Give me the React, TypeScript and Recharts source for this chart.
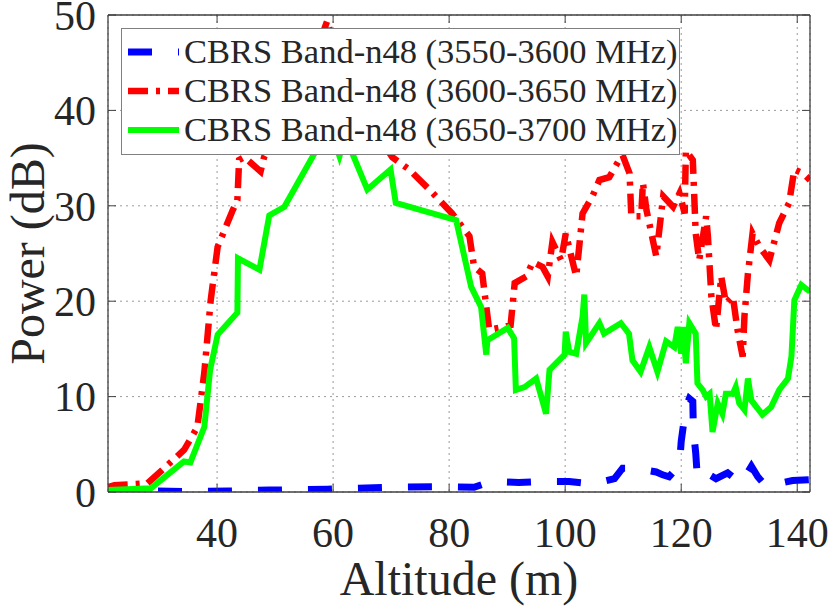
import React from "react";
import {
  LineChart, Line, XAxis, YAxis, CartesianGrid, Legend,
} from "recharts";

// altitude (m), power (dB)
const band3550: [number, number][] = [
  [21.2, 0], [29, 0.1], [35, 0.05], [42, 0.1], [49, 0.2], [59, 0.3], [70, 0.5],
  [79, 0.55], [84.3, 0.5], [87.2, 1.1], [92, 1], [96, 1.1], [100.7, 1.1],
  [104.7, 0.85], [108.5, 1.4], [109.9, 2.5], [111.9, 2.5], [115.7, 2.1],
  [116.8, 1.8], [117.9, 1.6], [119.7, 2.8], [120, 5.3], [120.8, 8.9],
  [121.4, 9.8], [122, 9.5], [122.1, 6.5], [122.5, 4.1], [122.8, 1.4],
  [123.7, 1.3], [124.9, 1.8], [126, 1.4], [128, 2], [130.3, 0.9], [132.1, 2.7],
  [133.2, 1.6], [134.6, 0.6], [139.2, 1.2], [142.2, 1.3],
];

const band3600: [number, number][] = [
  [21.2, 0.5], [22.3, 0.7], [28, 0.9], [34.3, 4.4], [36.6, 6.8], [37.8, 12.5],
  [38.9, 20.1], [40.1, 25.7], [42.6, 29.4], [43.5, 30.6], [43.8, 34.8],
  [44.7, 35.1], [47.5, 33.6], [48.1, 35.1], [51, 38.5], [54, 42], [57, 46],
  [59, 49.4], [60.5, 46], [63, 42], [66.5, 38.5], [70.2, 35.1], [73.1, 33.8],
  [76.6, 31.7], [80.5, 29.2], [83.5, 26.8], [84.3, 23.6], [85.7, 22.9],
  [86.9, 17], [88.6, 17.2], [90.6, 17.5], [91.3, 21.9], [93.3, 22.6],
  [94.4, 24.1], [96.1, 23.6], [97, 22.6], [97.8, 26.2], [99.3, 24.3],
  [100.1, 27.1], [101.9, 22.6], [103, 29.2], [104.7, 31], [105.9, 32.7],
  [107.6, 33], [109.3, 34.8], [109.9, 35.3], [111.1, 33.4], [111.4, 28.9],
  [113.1, 28.9], [113.4, 32.4], [114, 29.6], [115.7, 24.7], [116.9, 31],
  [118.6, 29.9], [119.7, 31.3], [120.6, 29.2], [120.8, 35.8], [122, 34.8],
  [122.5, 27.1], [123.1, 24.3], [124.3, 28.9], [124.6, 26.8], [125.2, 20.5],
  [126, 17], [126.9, 22.6], [127.7, 19.8], [128.9, 20.5], [129.7, 17],
  [130.6, 14.2], [130.9, 18.4], [131.5, 22.9], [132.3, 27.1], [133.5, 25.7],
  [135.2, 24.3], [136.9, 28.2], [138.6, 30.3], [139.5, 33.8], [141, 33.4],
  [142.2, 32.7],
];

const band3650: [number, number][] = [
  [21.2, 0.2], [28.6, 0.4], [34.3, 3.2], [35.4, 3.1], [37.8, 6.8], [38.8, 12.8],
  [40.1, 16.5], [43.5, 18.8], [43.6, 24.5], [47.3, 23.3], [49, 29], [51.6, 29.9],
  [56.8, 35.5], [59, 39], [61.1, 35.2], [62.2, 37.5], [63.1, 35.8], [65.9, 31.7],
  [69.9, 33.8], [70.8, 30.3], [81.2, 28.5], [83.8, 21.5], [85.5, 19.4],
  [86.4, 14.4], [86.6, 15.9], [90.1, 17.2], [91.2, 16.1], [91.5, 10.7], [93, 11],
  [95, 11.9], [96.7, 8.2], [97.3, 12.8], [99.9, 14.4], [100.1, 16.8],
  [100.7, 14.7], [101.9, 14.5], [103, 18.4], [103.3, 20.7], [103.6, 15.6],
  [105.9, 17.7], [106.7, 16.6], [109.6, 17.7], [111, 16.6], [111.6, 13.8],
  [113, 12.6], [114.5, 15.2], [115.9, 12.6], [117.4, 15.8], [118.8, 15.2],
  [119.4, 17.3], [120, 14.5], [120.3, 17.3], [120.8, 13.5], [121.4, 17.7],
  [122.5, 16.6], [122.8, 11.4], [123.7, 10.7], [124.3, 10], [124.9, 10.3],
  [125.4, 6.3], [126.3, 9.3], [127.1, 8.2], [127.7, 10.3], [128.9, 10.3],
  [129.4, 11], [130, 9.3], [130.9, 8.6], [131.5, 11.9], [132.1, 9.6], [134, 8.1],
  [135.5, 8.9], [136.9, 10.7], [138.4, 11.9], [139, 14.2], [139.5, 20.1],
  [140.7, 21.7], [142.2, 21],
];

const xTicks = [40, 60, 80, 100, 120, 140];
const yTicks = [0, 10, 20, 30, 40, 50];

const SERIES = [
  { name: "CBRS Band-n48 (3550-3600 MHz)", points: band3550, color: "#0000ff", dash: "24 26", width: 7 },
  { name: "CBRS Band-n48 (3600-3650 MHz)", points: band3600, color: "#ff0000", dash: "20 8 4 8", width: 6.5 },
  { name: "CBRS Band-n48 (3650-3700 MHz)", points: band3650, color: "#00ff00", dash: undefined, width: 6 },
];

const FONT = "'Liberation Serif', 'Times New Roman', serif";
const INK = "#262626";
const AXIS = "#404040";

const toRows = (pts: [number, number][]) => pts.map(([x, y]) => ({ x, y }));

const BottomTick = ({ x, y, payload }: any) => (
  <g>
    <line x1={x} x2={x} y1={y} y2={y - 8} stroke={AXIS} />
    <text x={x} y={y + 55} textAnchor="middle" fontFamily={FONT} fontSize={42} fill={INK}>
      {payload.value}
    </text>
  </g>
);

const LeftTick = ({ x, y, payload }: any) => (
  <g>
    <line x1={x} x2={x + 8} y1={y} y2={y} stroke={AXIS} />
    <text x={x - 12} y={y} dy="0.35em" textAnchor="end" fontFamily={FONT} fontSize={42} fill={INK}>
      {payload.value}
    </text>
  </g>
);

const TopTick = ({ x, y }: any) => <line x1={x} x2={x} y1={y} y2={y + 8} stroke={AXIS} />;
const RightTick = ({ x, y }: any) => <line x1={x} x2={x - 8} y1={y} y2={y} stroke={AXIS} />;

const YLabel = ({ viewBox }: any) => {
  const cx = viewBox.x + 27;
  const cy = viewBox.y + viewBox.height / 2;
  return (
    <text x={cx} y={cy} dy="0.35em" textAnchor="middle" transform={`rotate(-90, ${cx}, ${cy})`}
      fontFamily={FONT} fontSize={48} fill={INK}>
      Power (dB)
    </text>
  );
};

const XLabel = ({ viewBox }: any) => (
  <text x={viewBox.x + viewBox.width / 2} y={viewBox.y + 103} textAnchor="middle"
    fontFamily={FONT} fontSize={48} fill={INK}>
    Altitude (m)
  </text>
);

const LegendBox = () => (
  <div style={{
    width: 559, height: 127, boxSizing: "border-box", border: "1px solid #808080",
    background: "#fff", paddingTop: 3,
  }}>
    {SERIES.map((s) => (
      <div key={s.name} style={{ display: "flex", alignItems: "center", height: 39 }}>
        <svg width={51} height={12} style={{ marginLeft: 6, flex: "none" }}>
          <line x1={0} x2={51} y1={6} y2={6} stroke={s.color} strokeWidth={s.width} strokeDasharray={s.dash} />
        </svg>
        <span style={{ marginLeft: 5, fontFamily: FONT, fontSize: 34.5, color: INK, whiteSpace: "nowrap", lineHeight: 1 }}>
          {s.name}
        </span>
      </div>
    ))}
  </div>
);

export default function App() {
  return (
    <div style={{ position: "absolute", left: 0, top: 0, background: "#fff" }}>
      <LineChart width={830} height={615} margin={{ top: 14, right: 19, bottom: 0, left: 0 }}>
        <CartesianGrid stroke="#9a9a9a" strokeDasharray="2 4" strokeWidth={1} />
        <XAxis
          dataKey="x" type="number" domain={[21.2, 142.2]} ticks={xTicks} allowDataOverflow
          height={123} tickSize={0} tickMargin={0} tickLine={false}
          axisLine={{ stroke: AXIS, strokeWidth: 1.3 }} tick={<BottomTick />}
          label={<XLabel />} interval={0}
        />
        <XAxis
          xAxisId="top" orientation="top" dataKey="x" type="number" domain={[21.2, 142.2]}
          ticks={xTicks} allowDataOverflow height={1} tickSize={0} tickMargin={0} tickLine={false}
          axisLine={{ stroke: AXIS, strokeWidth: 1.3 }} tick={<TopTick />} interval={0}
        />
        <YAxis
          type="number" domain={[0, 50]} ticks={yTicks} allowDataOverflow width={108}
          tickSize={0} tickMargin={0} tickLine={false}
          axisLine={{ stroke: AXIS, strokeWidth: 1.3 }} tick={<LeftTick />}
          label={<YLabel />} interval={0}
        />
        <YAxis
          yAxisId="right" orientation="right" type="number" domain={[0, 50]} ticks={yTicks}
          allowDataOverflow width={1} tickSize={0} tickMargin={0} tickLine={false}
          axisLine={{ stroke: AXIS, strokeWidth: 1.3 }} tick={<RightTick />} interval={0}
        />
        {SERIES.map((s) => (
          <Line
            key={s.name} name={s.name} data={toRows(s.points)} dataKey="y" type="linear"
            stroke={s.color} strokeWidth={s.width} strokeDasharray={s.dash}
            dot={false} activeDot={false} isAnimationActive={false}
          />
        ))}
        <Legend
          layout="horizontal" verticalAlign="middle" align="center"
          wrapperStyle={{ top: 28, left: 121, width: 559, height: 127 }}
          content={<LegendBox />}
        />
      </LineChart>
    </div>
  );
}
